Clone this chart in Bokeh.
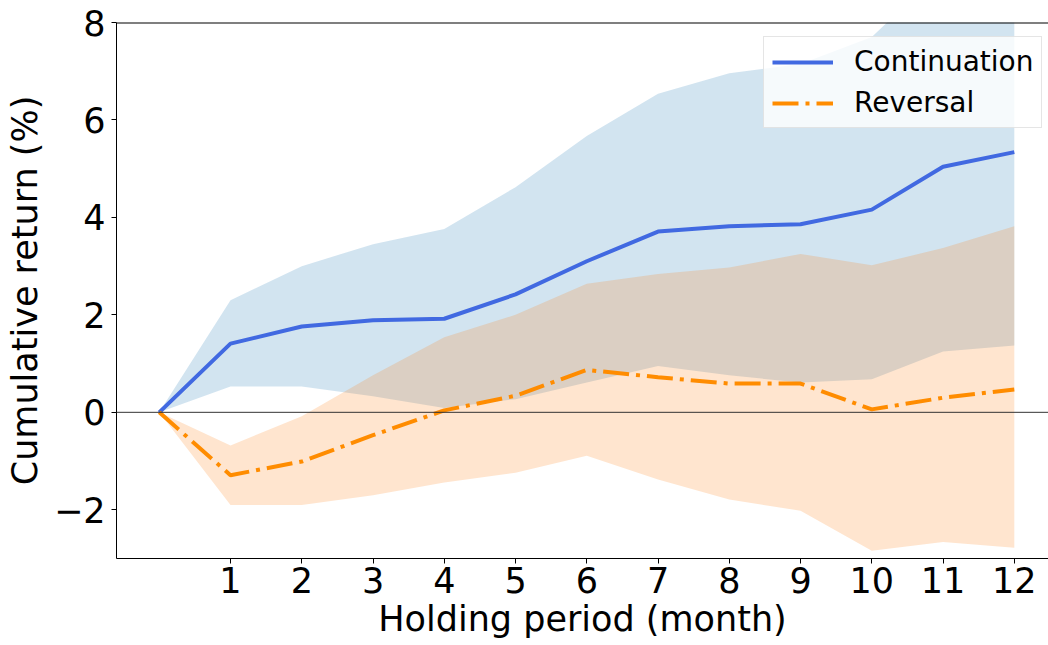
from bokeh.plotting import figure
from bokeh.models import Range1d, FixedTicker, Span, Legend, LegendItem
from bokeh.embed import file_html
from bokeh.resources import INLINE

months = [0, 1, 2, 3, 4, 5, 6, 7, 8, 9, 10, 11, 12]
cont = [0, 1.41, 1.76, 1.89, 1.92, 2.42, 3.10, 3.71, 3.82, 3.86, 4.16, 5.04, 5.34]
cont_hi = [0, 2.30, 3.00, 3.45, 3.76, 4.62, 5.67, 6.54, 6.96, 7.15, 7.70, 9.10, 9.70]
cont_lo = [0, 0.53, 0.53, 0.33, 0.09, 0.27, 0.61, 0.95, 0.76, 0.61, 0.68, 1.25, 1.37]
rev = [0, -1.29, -1.01, -0.47, 0.04, 0.34, 0.87, 0.72, 0.59, 0.59, 0.06, 0.30, 0.47]
rev_hi = [0, -0.68, -0.08, 0.76, 1.54, 2.00, 2.64, 2.84, 2.97, 3.25, 3.02, 3.37, 3.82]
rev_lo = [0, -1.90, -1.90, -1.70, -1.44, -1.24, -0.89, -1.38, -1.79, -2.02, -2.84, -2.66, -2.78]

x_ticks = [1, 2, 3, 4, 5, 6, 7, 8, 9, 10, 11, 12]
y_ticks = [-2, 0, 2, 4, 6, 8]
y_tick_labels = {-2: "\u22122", 0: "0", 2: "2", 4: "4", 6: "6", 8: "8"}

FONT = "DejaVu Sans"

p = figure(width=1048, height=645, output_backend="svg", toolbar_location=None,
           x_range=Range1d(-0.6, 12.48), y_range=Range1d(-3, 8),
           min_border_left=116, min_border_top=22, min_border_right=0, min_border_bottom=87)
p.background_fill_color = "white"
p.border_fill_color = "white"
p.outline_line_color = None
p.xgrid.visible = False
p.ygrid.visible = False

# bands
p.varea(x=months, y1=cont_lo, y2=cont_hi, fill_color="#1f77b4", fill_alpha=0.2)
p.varea(x=months, y1=rev_lo, y2=rev_hi, fill_color="#ff7f0e", fill_alpha=0.2)

p.add_layout(Span(location=0, dimension="width", line_color="#333333", line_width=1))
p.add_layout(Span(location=8, dimension="width", line_color="black", line_width=2))

l1 = p.line(months, cont, line_color="#4169E1", line_width=4)
l2 = p.line(months, rev, line_color="#FF8C00", line_width=4, line_dash="26 7 4 7")

# axes
for ax in (p.xaxis[0], p.yaxis[0]):
    ax.major_label_text_font = FONT
    ax.major_label_text_font_size = "35px"
    ax.major_label_text_color = "black"
    ax.axis_label_text_font = FONT
    ax.axis_label_text_font_size = "35px"
    ax.axis_label_text_font_style = "normal"
    ax.axis_label_text_color = "black"
    ax.axis_line_color = "black"
    ax.major_tick_line_color = "black"
    ax.major_tick_out = 5
    ax.major_tick_in = 0
    ax.minor_tick_line_color = None

p.xaxis.ticker = FixedTicker(ticks=x_ticks)
p.yaxis.ticker = FixedTicker(ticks=y_ticks)
p.yaxis.major_label_overrides = y_tick_labels
p.xaxis.axis_label = "Holding period (month)"
p.yaxis.axis_label = "Cumulative return (%)"
p.xaxis.major_label_standoff = 3
p.yaxis.major_label_standoff = 6
p.xaxis.axis_label_standoff = 3
p.yaxis.axis_label_standoff = 6

legend = Legend(items=[LegendItem(label="Continuation", renderers=[l1]),
                       LegendItem(label="Reversal", renderers=[l2])],
                location=(647, 430))
legend.label_text_font = FONT
legend.label_text_font_size = "28px"
legend.label_text_color = "black"
legend.glyph_width = 61
legend.glyph_height = 30
legend.label_standoff = 21
legend.padding = 8
legend.spacing = 8
legend.margin = 0
legend.background_fill_color = "white"
legend.background_fill_alpha = 0.8
legend.border_line_color = "#cccccc"
legend.border_line_width = 1
p.add_layout(legend)

open("out.html", "w").write(file_html(p, INLINE))
